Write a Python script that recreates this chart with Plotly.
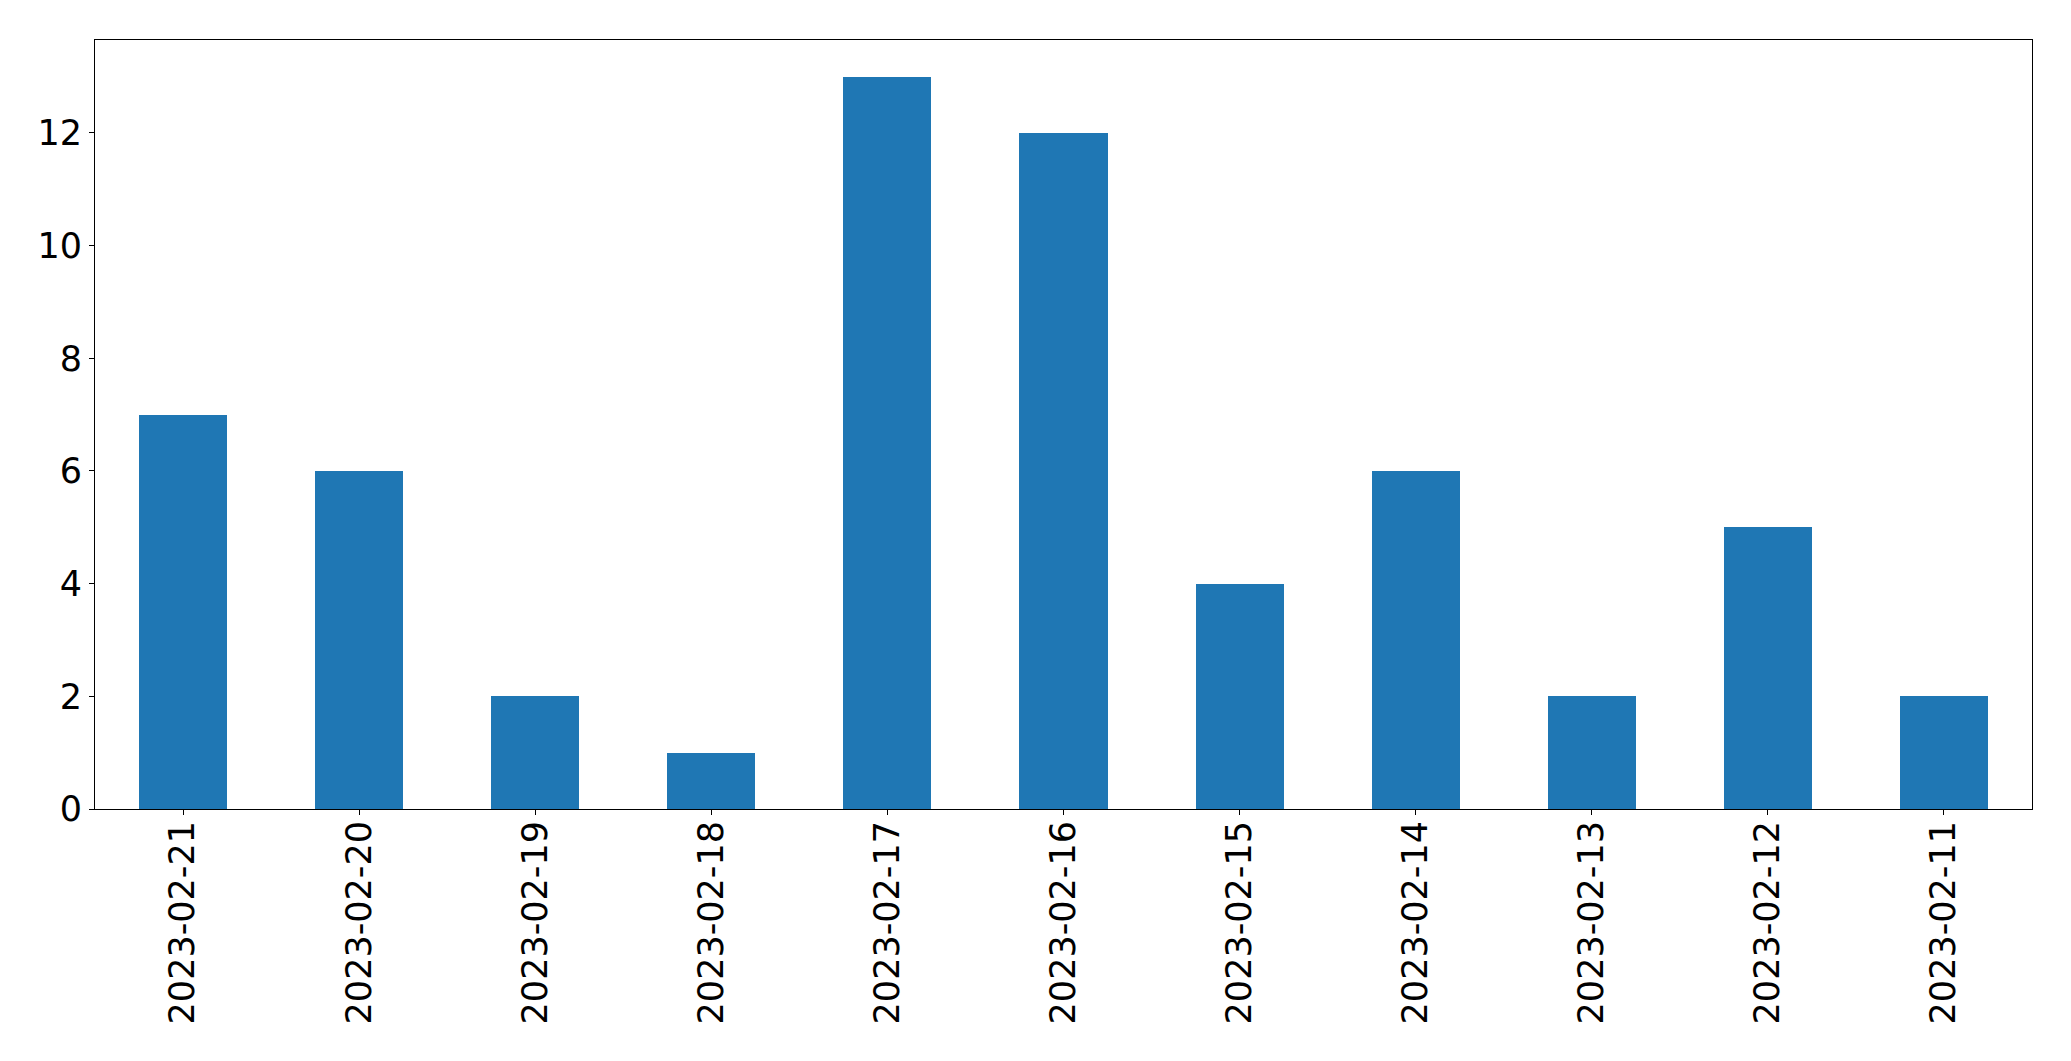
import plotly.graph_objects as go

dates = ["2023-02-21", "2023-02-20", "2023-02-19", "2023-02-18", "2023-02-17",
         "2023-02-16", "2023-02-15", "2023-02-14", "2023-02-13", "2023-02-12",
         "2023-02-11"]
counts = [7, 6, 2, 1, 13, 12, 4, 6, 2, 5, 2]
y_ticks = [0, 2, 4, 6, 8, 10, 12]

font = dict(family="DejaVu Sans", size=35, color="black")

fig = go.Figure(go.Bar(x=dates, y=counts, width=0.5, marker=dict(color="#1f77b4", line=dict(width=0))))

fig.update_layout(
    width=2071, height=1061,
    margin=dict(l=95, r=39, t=40, b=252),
    paper_bgcolor="white", plot_bgcolor="white",
    font=font, showlegend=False, bargap=0,
)
fig.update_xaxes(
    type="category", range=[-0.5, 10.5], tickangle=-90,
    showline=True, linecolor="black", linewidth=1, mirror=True,
    ticks="outside", ticklen=5, tickwidth=1, tickcolor="black",
    showgrid=False, tickfont=font, automargin=False, ticklabelstandoff=-8,
)
fig.update_yaxes(
    range=[0, 13.65], tickvals=y_ticks,
    showline=True, linecolor="black", linewidth=1, mirror=True,
    ticks="outside", ticklen=5, tickwidth=1, tickcolor="black",
    showgrid=False, zeroline=False, tickfont=font, automargin=False,
)

fig.write_html(
    "out.html",
    config={"displayModeBar": False},
    post_script="document.body.style.margin='0';document.body.style.overflow='hidden';",
)
